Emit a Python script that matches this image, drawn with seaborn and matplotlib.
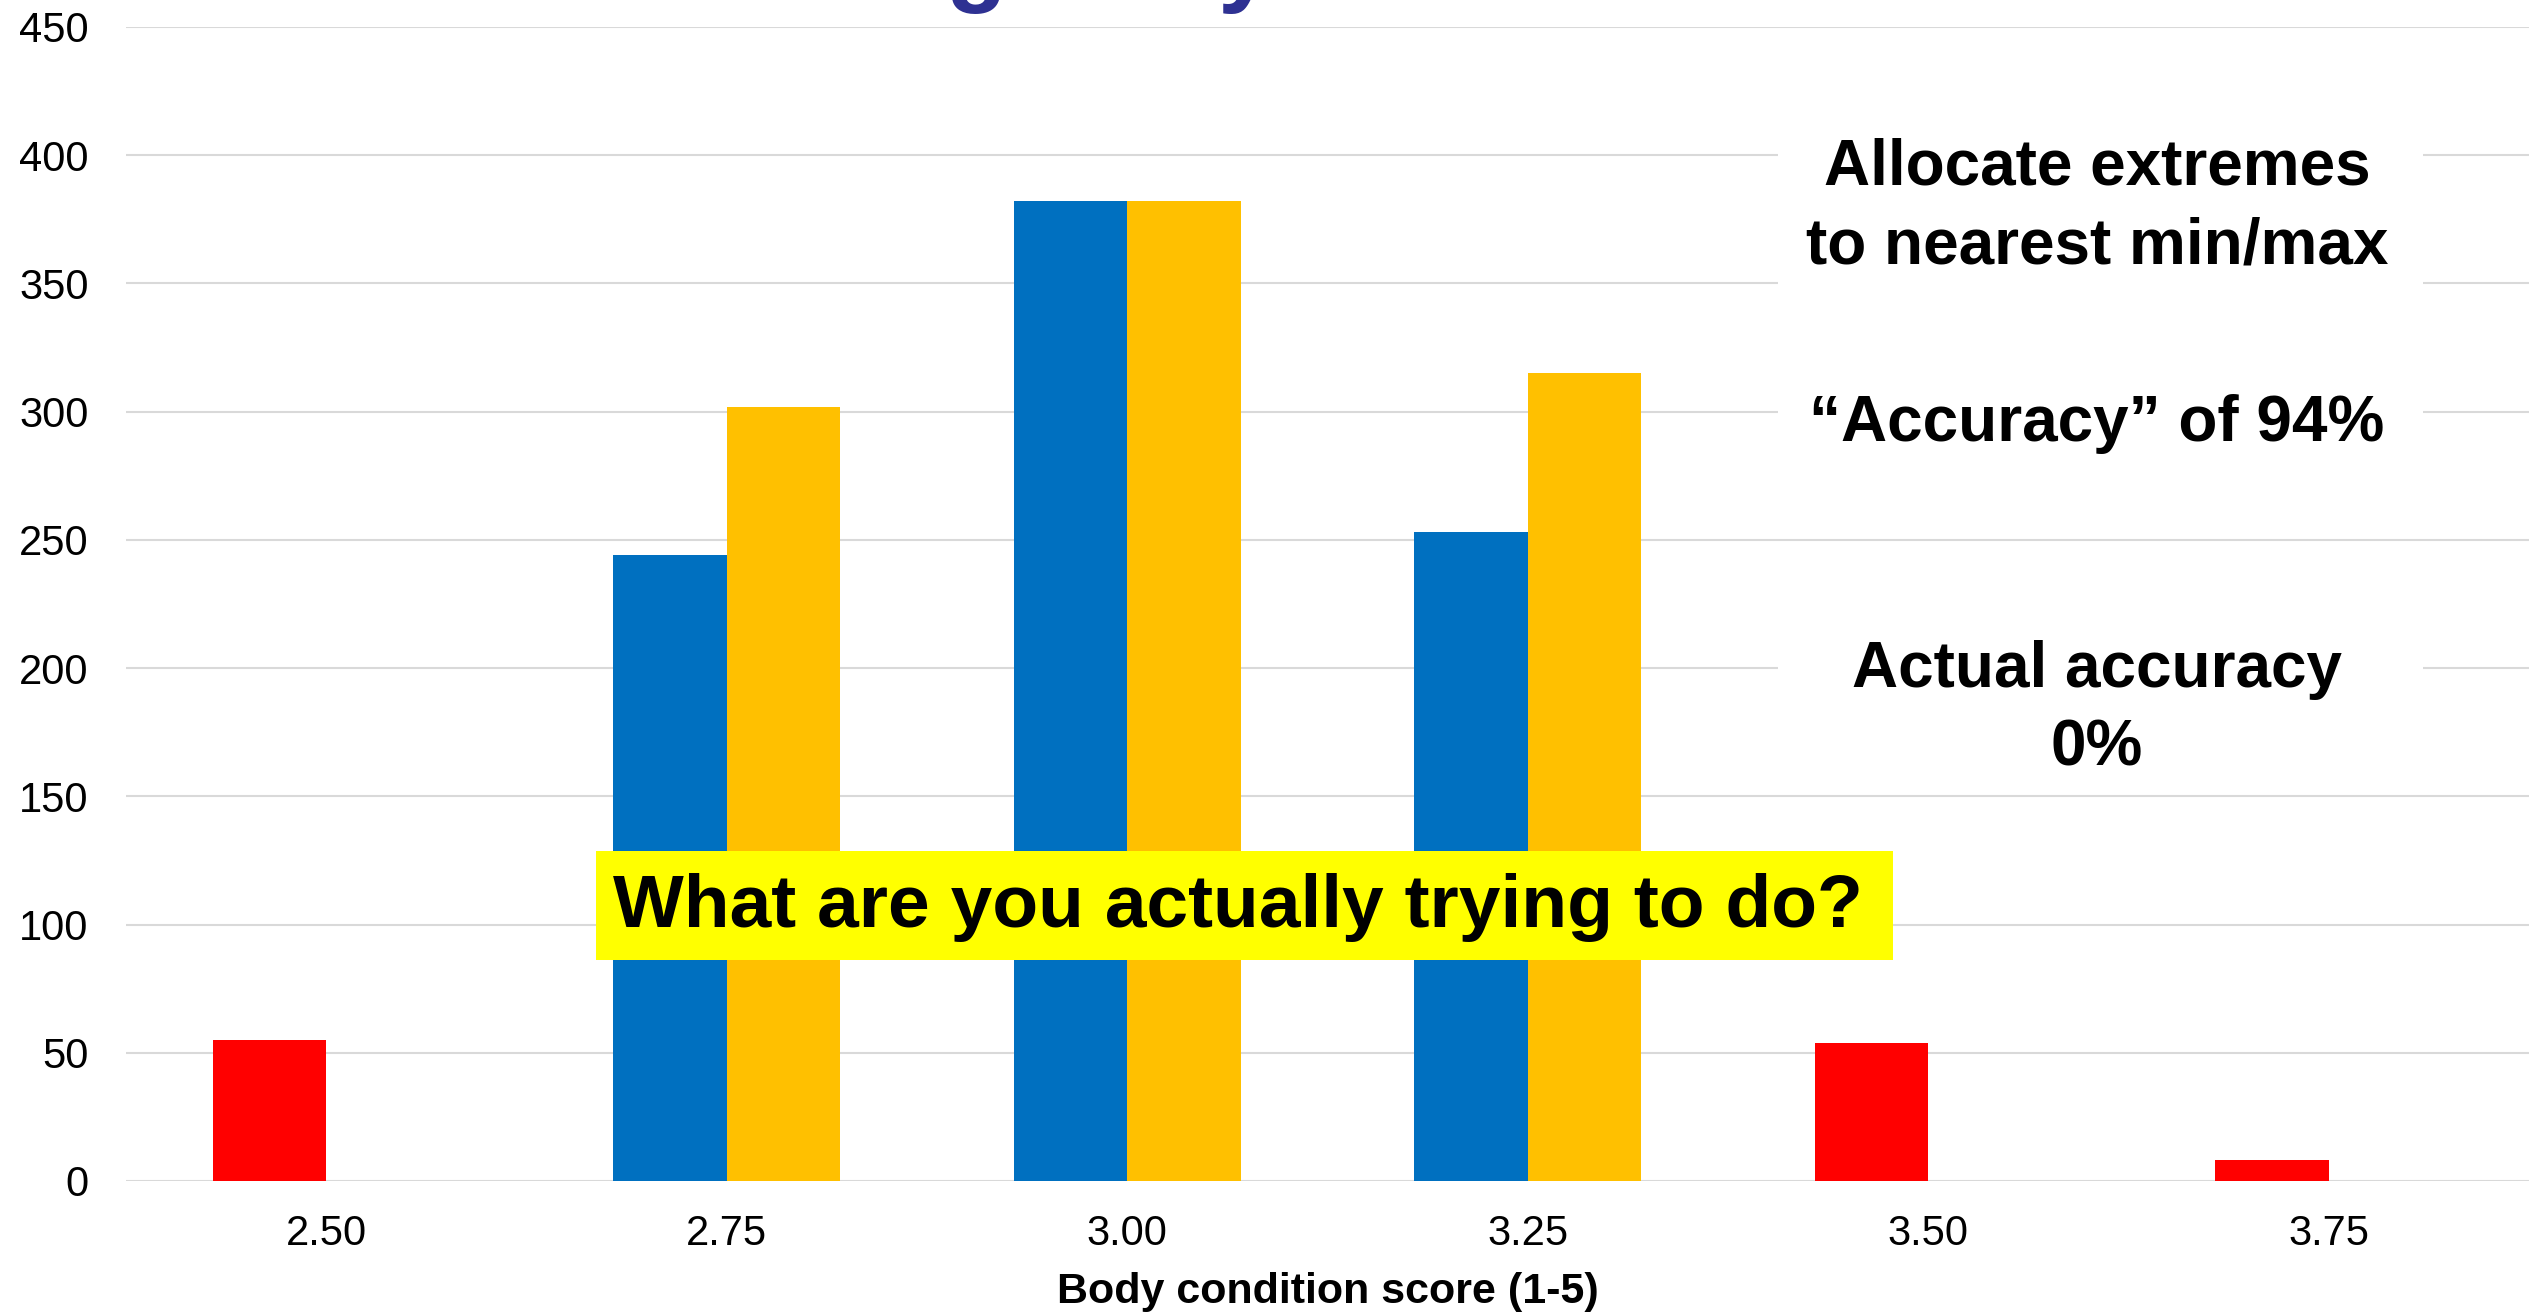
import matplotlib
matplotlib.use("Agg")
import matplotlib.pyplot as plt
import seaborn as sns
import pandas as pd
from matplotlib.patches import Rectangle

# ---- data ----
categories = ["2.50", "2.75", "3.00", "3.25", "3.50", "3.75"]
series_a = [55, 244, 382, 253, 54, 8]
series_b = [0, 302, 382, 315, 0, 0]
series_names = ["Observed", "Predicted"]
series_a_colors = ["#FF0000", "#0070C0", "#0070C0", "#0070C0", "#FF0000", "#FF0000"]
series_b_color = "#FFC000"
y_ticks = [0, 50, 100, 150, 200, 250, 300, 350, 400, 450]

title_text = "Predicting body condition score"
x_label = "Body condition score (1-5)"
note1 = "Allocate extremes\nto nearest min/max"
note2 = "\u201cAccuracy\u201d of 94%"
note3 = "Actual accuracy\n0%"
banner = "What are you actually trying to do?"

df = pd.DataFrame({
    "score": categories * 2,
    "series": [series_names[0]] * len(categories) + [series_names[1]] * len(categories),
    "count": series_a + series_b,
})

sns.set_theme(style="white")
plt.rcParams["font.family"] = ["Liberation Sans", "DejaVu Sans"]
plt.rcParams["text.color"] = "black"
plt.rcParams["axes.labelcolor"] = "black"
plt.rcParams["xtick.color"] = "black"
plt.rcParams["ytick.color"] = "black"

W, H = 2539, 1312
fig = plt.figure(figsize=(W / 100, H / 100), dpi=100)
ax = fig.add_axes([126 / W, 1 - 1181 / H, (2529 - 126) / W, (1181 - 27) / H])

sns.barplot(data=df, x="score", y="count", hue="series", order=categories,
            hue_order=series_names, palette=["#0070C0", series_b_color],
            width=0.566, gap=0, dodge=True, saturation=1, linewidth=0,
            legend=False, ax=ax, zorder=3)

for patch, c in zip(ax.containers[0], series_a_colors):
    patch.set_facecolor(c)
for patch in ax.containers[1]:
    patch.set_facecolor(series_b_color)

ax.set_ylim(0, 450)
ax.set_xlim(-0.5, len(categories) - 0.5)
ax.set_yticks(y_ticks)
ax.yaxis.grid(True, color="#D9D9D9", linewidth=1.5, zorder=0)
ax.set_axisbelow(True)
for s in ax.spines.values():
    s.set_visible(False)
ax.tick_params(axis="y", length=0, pad=27, labelsize=30, labelcolor="black")
ax.tick_params(axis="x", length=0, pad=23.5, labelsize=30, labelcolor="black")
ax.set_ylabel("")
ax.set_xlabel(x_label, fontsize=31, fontweight="bold", labelpad=13, color="black")

# cut-off title at the top edge
fig.text(1282 / W, 1 + 7 / H, title_text, fontsize=72, fontweight="bold",
         color="#2E3192", ha="center", va="baseline")

# white text boxes on the right
box_x0, box_x1 = 1778 / W, 2423 / W
for (y0, y1) in [(95, 310), (380, 470), (590, 785)]:
    fig.add_artist(Rectangle((box_x0, 1 - y1 / H), box_x1 - box_x0, (y1 - y0) / H,
                             transform=fig.transFigure, facecolor="white",
                             edgecolor="none", zorder=5))
cx = 2097 / W
fig.text(cx, 1 - 207 / H, note1, fontsize=46, fontweight="bold", ha="center",
         va="center", linespacing=1.39, color="black", zorder=6)
fig.text(cx, 1 - 424 / H, note2, fontsize=46, fontweight="bold", ha="center",
         va="center", color="black", zorder=6)
fig.text(cx, 1 - 709 / H, note3, fontsize=46, fontweight="bold", ha="center",
         va="center", linespacing=1.39, color="black", zorder=6)

# yellow banner
fig.add_artist(Rectangle((596 / W, 1 - 960 / H), (1893 - 596) / W, (960 - 851) / H,
                         transform=fig.transFigure, facecolor="#FFFF00",
                         edgecolor="none", zorder=5))
fig.text(1238 / W, 1 - 907 / H, banner, fontsize=54, fontweight="bold",
         ha="center", va="center", color="black", zorder=6)

fig.savefig("out.png", dpi=100)
